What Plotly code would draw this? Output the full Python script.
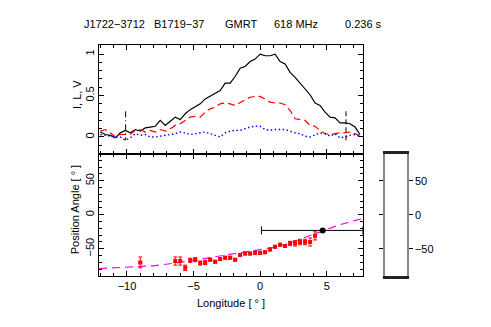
import plotly.graph_objects as go

# pulse longitude bins (deg)
lon = [-12.0, -11.625, -11.25, -10.875, -10.5, -10.125, -9.75, -9.375, -9.0, -8.625,
       -8.25, -7.875, -7.5, -7.125, -6.75, -6.375, -6.0, -5.625, -5.25, -4.875,
       -4.5, -4.125, -3.75, -3.375, -3.0, -2.625, -2.25, -1.875, -1.5, -1.125,
       -0.75, -0.375, 0.0, 0.375, 0.75, 1.125, 1.5, 1.875, 2.25, 2.625,
       3.0, 3.375, 3.75, 4.125, 4.5, 4.875, 5.25, 5.625, 6.0, 6.375,
       6.75, 7.125, 7.5]

stokes_i = [0.06, 0.03, 0.02, -0.01, 0.05, 0.08, 0.05, 0.09, 0.07, 0.11,
            0.12, 0.13, 0.20, 0.14, 0.19, 0.24, 0.21, 0.28, 0.33, 0.36,
            0.40, 0.46, 0.49, 0.53, 0.56, 0.65, 0.65, 0.73, 0.83, 0.85,
            0.91, 0.94, 1.00, 0.98, 0.98, 1.00, 0.91, 0.88, 0.78, 0.72,
            0.65, 0.59, 0.51, 0.41, 0.38, 0.30, 0.24, 0.23, 0.17, 0.17,
            0.16, 0.12, 0.03]

stokes_l = [0.07, 0.09, 0.05, 0.00, 0.03, 0.03, 0.03, 0.08, 0.09, 0.06,
            0.08, 0.06, 0.09, 0.07, 0.10, 0.14, 0.16, 0.20, 0.24, 0.25,
            0.24, 0.30, 0.34, 0.36, 0.40, 0.41, 0.40, 0.38, 0.42, 0.45,
            0.48, 0.49, 0.49, 0.46, 0.42, 0.41, 0.41, 0.39, 0.32, 0.22,
            0.21, 0.20, 0.14, 0.13, 0.08, 0.04, 0.03, 0.04, 0.05, 0.05,
            0.06, 0.04, 0.01]

stokes_v = [0.03, 0.02, 0.01, 0.00, 0.00, -0.04, -0.01, 0.04, 0.02, 0.03,
            0.00, 0.00, 0.01, 0.02, 0.03, 0.04, 0.06, 0.05, 0.03, 0.04,
            0.05, 0.06, 0.04, 0.02, 0.00, 0.05, 0.07, 0.08, 0.08, 0.10,
            0.12, 0.13, 0.13, 0.09, 0.08, 0.09, 0.09, 0.09, 0.07, 0.05,
            0.04, 0.01, 0.00, 0.03, 0.05, 0.04, 0.01, 0.04, -0.01, 0.00,
            0.02, 0.03, 0.02]

# on-pulse window edges
win_lon = [-10.1, 6.45]
win_top = 0.31
win_bot = -0.04

# position angle points
pa_lon = [-9.0, -6.375, -6.0, -5.625, -5.25, -4.875, -4.5, -4.125, -3.75, -3.375,
          -3.0, -2.625, -2.25, -1.875, -1.5, -1.125, -0.75, -0.375, 0.0, 0.375,
          0.75, 1.125, 1.5, 1.875, 2.25, 2.625, 3.0, 3.375, 3.75, 4.125]
pa_val = [-70, -68, -68, -78, -67, -66, -71, -70, -66, -69,
          -65, -63, -63, -66, -59, -57, -57, -56, -56, -55,
          -51, -47, -44, -46, -42, -42, -40, -40, -40, -31]
pa_err = [8, 6, 6, 4, 3, 3, 3, 3, 2, 2,
          2, 2, 2, 2, 2, 2, 2, 2, 2, 2,
          2, 2, 2, 2, 3, 4, 4, 4, 6, 6]

# RVM fit curve
fit_lon = [-12.1, -10, -8, -6, -4, -2, 0, 1, 2, 3, 4, 4.7, 5, 6, 7, 7.7]
fit_pa = [-79, -77, -75, -70, -64, -58, -52, -48, -43, -36, -28, -23, -21, -14.5, -9, -5.5]

# fiducial point
fid_lon = 4.7
fid_pa = -23
fid_left = 4.6
fid_right = 3.0

font = "Liberation Sans, Arial, sans-serif"

fig = go.Figure()

fig.add_trace(go.Scatter(x=lon, y=stokes_i, mode="lines",
                         line=dict(color="black", width=1.2), xaxis="x", yaxis="y"))
fig.add_trace(go.Scatter(x=lon, y=stokes_l, mode="lines",
                         line=dict(color="#ff0000", width=1.2, dash="7px,4px"), xaxis="x", yaxis="y"))
fig.add_trace(go.Scatter(x=lon, y=stokes_v, mode="lines",
                         line=dict(color="#0000ff", width=1.4, dash="1.5px,2.5px"), xaxis="x", yaxis="y"))
fig.add_trace(go.Scatter(x=[win_lon[0], win_lon[0]], y=[win_top, win_bot], mode="lines",
                         line=dict(color="black", width=1, dash="6px,3px,1px,3px"), xaxis="x", yaxis="y"))
fig.add_trace(go.Scatter(x=[win_lon[1], win_lon[1]], y=[win_top, win_bot], mode="lines",
                         line=dict(color="black", width=1, dash="5px,3px"), xaxis="x", yaxis="y"))

fig.add_trace(go.Scatter(x=fit_lon, y=fit_pa, mode="lines",
                         line=dict(color="#ff00ff", width=1.2, dash="8px,5px"), xaxis="x2", yaxis="y2"))
fig.add_trace(go.Scatter(x=pa_lon, y=pa_val, mode="markers",
                         marker=dict(color="#ff0000", size=4, symbol="square"),
                         error_y=dict(type="data", array=pa_err, color="#ff0000", thickness=1, width=2),
                         xaxis="x2", yaxis="y2"))
fig.add_trace(go.Scatter(x=[fid_lon], y=[fid_pa], mode="markers",
                         marker=dict(color="black", size=6),
                         error_x=dict(type="data", array=[fid_right], arrayminus=[fid_left],
                                      color="black", thickness=1, width=4),
                         xaxis="x2", yaxis="y2"))
fig.add_trace(go.Scatter(x=[0], y=[0], mode="markers", marker=dict(opacity=0),
                         xaxis="x3", yaxis="y3", hoverinfo="skip"))

ax = dict(showline=True, linecolor="black", linewidth=1, mirror="allticks",
          ticks="inside", ticklen=5, tickcolor="black", showgrid=False, zeroline=False,
          tickfont=dict(family=font, size=11, color="black"))

# page body adds an 8px margin, so the figure is 8px smaller on each axis
fig.update_layout(
    width=483, height=319,
    margin=dict(l=91, r=84, t=37, b=51),
    paper_bgcolor="white", plot_bgcolor="white",
    showlegend=False,
    font=dict(family=font, size=11, color="black"),
    xaxis=dict(ax, domain=[0, 0.856], range=[-12.1, 7.7], anchor="y", showticklabels=False,
               dtick=5, tick0=0, minor=dict(dtick=1, ticks="inside", ticklen=3, tickcolor="black")),
    yaxis=dict(ax, domain=[0.53, 1], range=[-0.2, 1.11], anchor="x", tickvals=[0, 0.5, 1],
               ticktext=["0", "0.5", "1"], tickangle=-90,
               minor=dict(dtick=0.1, tick0=0, ticks="inside", ticklen=3, tickcolor="black")),
    xaxis2=dict(ax, domain=[0, 0.856], range=[-12.1, 7.7], anchor="y2", dtick=5, tick0=0,
                minor=dict(dtick=1, ticks="inside", ticklen=3, tickcolor="black")),
    yaxis2=dict(ax, domain=[0, 0.53], range=[-90, 90], anchor="x2", tickvals=[-50, 0, 50],
                tickangle=-90,
                minor=dict(dtick=10, tick0=0, ticks="inside", ticklen=3, tickcolor="black")),
    xaxis3=dict(domain=[0.9286, 1], range=[0, 1], anchor="y3", showline=True, mirror=True,
                linecolor="#222222", linewidth=3, showticklabels=False, ticks="",
                showgrid=False, zeroline=False),
    yaxis3=dict(domain=[0, 0.53], range=[-90, 90], anchor="x3", side="right",
                showline=True, mirror="ticks", linecolor="#888888", linewidth=1.5,
                ticks="outside", ticklen=4, tickcolor="black", tickvals=[-50, 0, 50],
                showgrid=False, zeroline=False,
                tickfont=dict(family=font, size=11, color="black")),
)

header = [("J1722\u22123712", -0.056), ("B1719\u221237", 0.171), ("GMRT", 0.403),
          ("618 MHz", 0.561), ("0.236 s", 0.791)]
for txt, xp in header:
    fig.add_annotation(text=txt, x=xp, y=1.091, xref="paper", yref="paper",
                       xanchor="left", yanchor="middle", showarrow=False,
                       font=dict(family=font, size=11, color="black"))

fig.add_annotation(text="Longitude [ \u00b0 ]", x=0.428, y=-0.116, xref="paper", yref="paper",
                   xanchor="center", yanchor="middle", showarrow=False,
                   font=dict(family=font, size=11, color="black"))
fig.add_annotation(text="I, L, V", x=-0.071, y=0.784, xref="paper", yref="paper",
                   xanchor="center", yanchor="middle", showarrow=False, textangle=-90,
                   font=dict(family=font, size=11, color="black"))
fig.add_annotation(text="Position Angle [ \u00b0 ]", x=-0.077, y=0.286, xref="paper", yref="paper",
                   xanchor="center", yanchor="middle", showarrow=False, textangle=-90,
                   font=dict(family=font, size=11, color="black"))

fig.write_html("out.html")
